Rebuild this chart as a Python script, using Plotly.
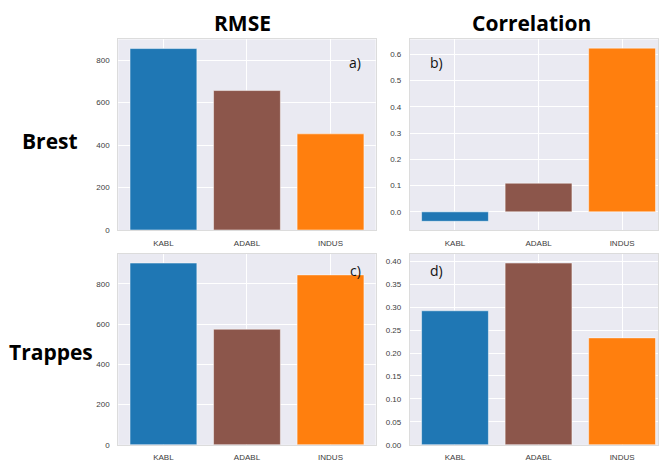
import plotly.graph_objects as go

# Model scores per station
models = ["KABL", "ADABL", "INDUS"]
bar_colors = ["#1f77b4", "#8c564b", "#ff7f0e"]

brest_rmse = [855, 657, 453]
brest_corr = [-0.036, 0.109, 0.623]
trappes_rmse = [904, 575, 845]
trappes_corr = [0.292, 0.396, 0.233]

W, H = 659, 462
BG = "#EAEAF2"
FONT_TICK = dict(family="Liberation Sans, Arial, sans-serif", size=8, color="#3c3c3c")
FONT_HEAD = "Open Sans, sans-serif"


def auto_range(vals):
    lo = min(0.0, min(vals))
    hi = max(0.0, max(vals))
    span = hi - lo
    return [lo - 0.05 * span if lo < 0 else 0.0, hi + 0.05 * span]


def px_x(a, b):
    return [a / W, b / W]


def px_y(top, bottom):
    return [1 - bottom / H, 1 - top / H]


panels = [
    # (values, x domain px, y domain px, x range, y ticks, tick format, letter, letter pos)
    (brest_rmse, (118.5, 376.2), (40, 233), [-0.54, 2.54], [0, 200, 400, 600, 800], "d", "a)", (356, 63)),
    (brest_corr, (410.5, 659), (40, 233), [-0.54, 2.43], [0, 0.1, 0.2, 0.3, 0.4, 0.5, 0.6], ".1f", "b)", (437, 63)),
    (trappes_rmse, (118.5, 376.2), (257.3, 450.7), [-0.54, 2.54], [0, 200, 400, 600, 800], "d", "c)", (356, 274)),
    (trappes_corr, (410.5, 659), (257.3, 450.7), [-0.54, 2.43],
     [0, 0.05, 0.1, 0.15, 0.2, 0.25, 0.3, 0.35, 0.4], ".2f", "d)", (437, 274)),
]

fig = go.Figure()
annotations = []

for i, (vals, xd, yd, xr, yt, fmt, letter, lpos) in enumerate(panels, start=1):
    xa = "x" if i == 1 else f"x{i}"
    ya = "y" if i == 1 else f"y{i}"
    fig.add_trace(go.Bar(
        x=models, y=vals, xaxis=xa, yaxis=ya,
        marker=dict(color=bar_colors, line=dict(color="rgba(255,255,255,0.6)", width=0.8)),
        width=0.8, showlegend=False, hoverinfo="x+y",
    ))
    xkey = "xaxis" if i == 1 else f"xaxis{i}"
    ykey = "yaxis" if i == 1 else f"yaxis{i}"
    fig.layout[xkey] = dict(
        domain=px_x(*xd), anchor=ya, type="category", range=xr,
        showgrid=True, gridcolor="white", gridwidth=1,
        showline=True, linecolor="#dcdcdc", linewidth=1, mirror=True,
        ticks="", tickfont=FONT_TICK, ticklabelstandoff=5, fixedrange=True,
    )
    fig.layout[ykey] = dict(
        domain=px_y(*yd), anchor=xa, range=auto_range(vals),
        tickvals=yt, tickformat=fmt,
        showgrid=True, gridcolor="white", gridwidth=1, zeroline=False,
        showline=True, linecolor="#dcdcdc", linewidth=1, mirror=True,
        ticks="", tickfont=FONT_TICK, ticklabelstandoff=6, fixedrange=True,
    )
    annotations.append(dict(
        text=letter, xref="paper", yref="paper", x=lpos[0] / W, y=1 - lpos[1] / H,
        xanchor="center", yanchor="middle", showarrow=False,
        font=dict(family=FONT_HEAD, size=14, color="#111111"),
    ))

# Column and row headings
headings = [
    ("RMSE", 243, 23),
    ("Correlation", 532, 23),
    ("Brest", 50, 142.5),
    ("Trappes", 51, 357),
]
for txt, hx, hy in headings:
    annotations.append(dict(
        text=f"<b>{txt}</b>", xref="paper", yref="paper", x=hx / W, y=1 - hy / H,
        xanchor="center", yanchor="middle", showarrow=False,
        font=dict(family=FONT_HEAD, size=21, color="#000000"),
    ))

fig.update_layout(
    width=W, height=H,
    margin=dict(l=0, r=0, t=0, b=0),
    paper_bgcolor="white", plot_bgcolor=BG,
    annotations=annotations,
    bargap=0.2,
)

fig.write_html("out.html", config={"displayModeBar": False})
